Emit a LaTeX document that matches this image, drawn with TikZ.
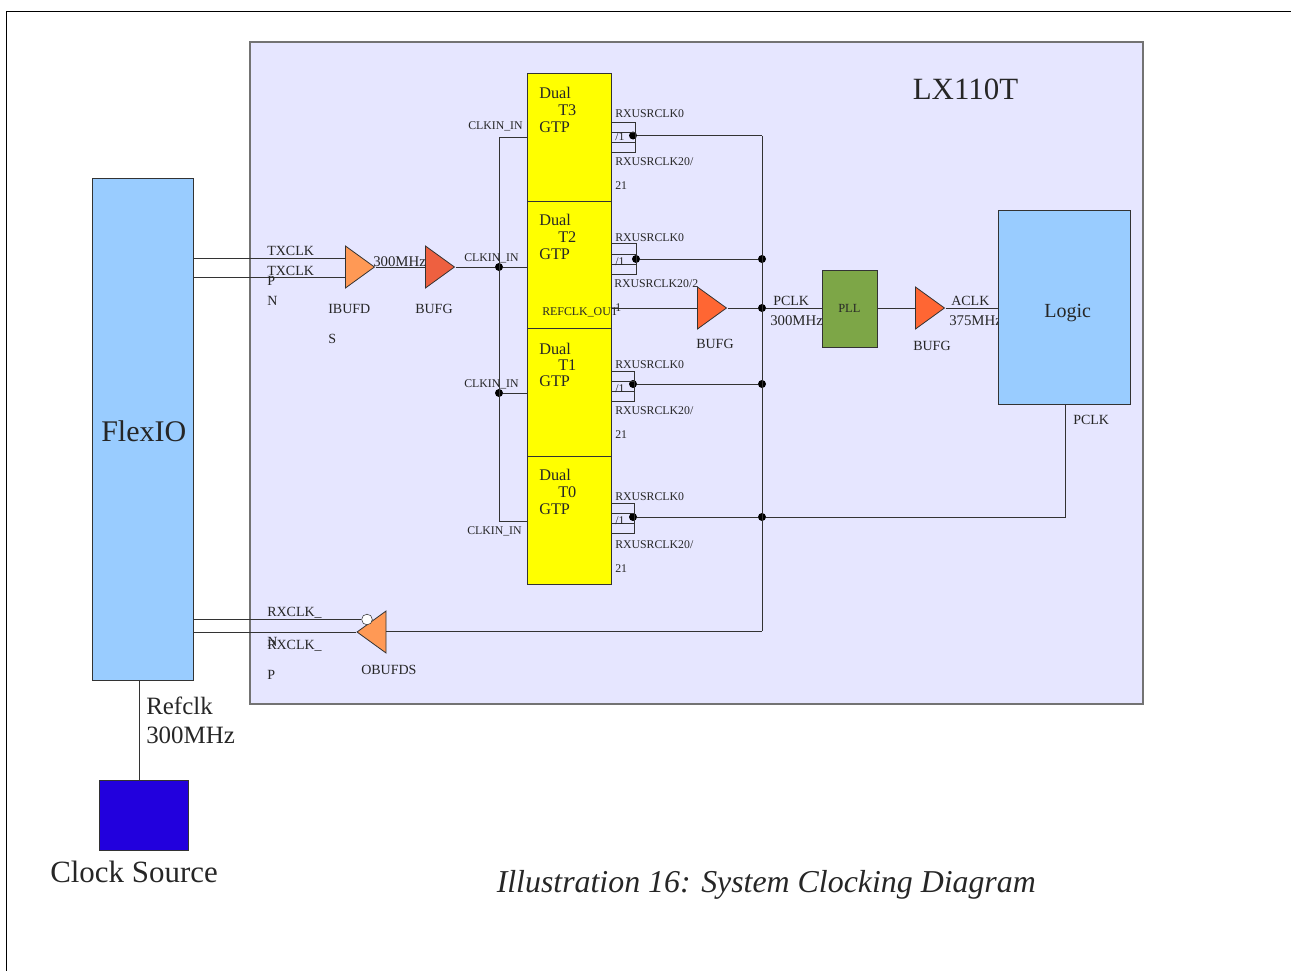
\documentclass[tikz,border=0pt]{standalone}
\usepackage{fontspec}
\setmainfont{Liberation Serif}
\usetikzlibrary{shapes.geometric}
\def\px{0.75pt}
\definecolor{panel}{HTML}{E6E6FF}
\definecolor{sky}{HTML}{99CCFF}
\definecolor{gtpyellow}{HTML}{FFFF00}
\definecolor{pllgreen}{HTML}{7DA647}
\definecolor{srcblue}{HTML}{2200DD}
\definecolor{wirec}{HTML}{333333}
\definecolor{ibufc}{HTML}{FF9955}
\definecolor{bufc}{HTML}{FF6633}
\definecolor{bufd}{HTML}{EE6040}
\begin{document}
\begin{tikzpicture}[x=0.75pt, y=-0.75pt,
  box/.style = {draw=black!80, line width=0.7pt, inner sep=0pt},
  gtp/.style = {box, fill=gtpyellow, minimum width=84*\px, minimum height=128*\px},
  wire/.style = {draw=wirec, line width=0.7pt},
  junction/.style = {circle, fill=black, inner sep=0pt, minimum size=6pt},
  amp/.style = {draw=black!80, line width=0.6pt, isosceles triangle, isosceles triangle stretches, inner sep=0pt, minimum width=42*\px, minimum height=29*\px},
  txt/.style = {anchor=base west, inner sep=0pt, text=black!85},
  tiny/.style = {txt, font=\fontsize{8.85}{9}\selectfont},
  small/.style = {txt, font=\fontsize{10.5}{10}\selectfont},
  wide/.style = {txt, font=\fontsize{11.1}{11}\selectfont},
  mid/.style = {txt, font=\fontsize{12.2}{12}\selectfont},
  big/.style = {txt, font=\fontsize{18.7}{18}\selectfont},
  huge/.style = {txt, font=\fontsize{23}{23}\selectfont}]
\useasboundingbox (0,0) rectangle (1291,971);
% page edge
\coordinate (pagetl) at (6,11);
\coordinate (pagetr) at (1291,11);
\coordinate (pagebl) at (6,971);
\draw[black, line width=0.6pt] (pagetr) -- (pagetl) -- (pagebl);
% boxes
\node[box, draw=black!55, line width=1pt, fill=panel, minimum width=893*\px, minimum height=662*\px] (fpga) at (696.5,373) {};
\node[wide] (p300) at (770,325) {300MHz};
\node[wide] (a375) at (949,325) {375MHz};
\node[box, fill=sky, minimum width=101*\px, minimum height=502*\px] (flexio) at (142.5,429) {};
\node[box, fill=srcblue, minimum width=89*\px, minimum height=70*\px] (source) at (143.5,815) {};
\node[gtp] (t3) at (569,137) {};
\node[gtp] (t2) at (569,265) {};
\node[gtp] (t1) at (569,392.5) {};
\node[gtp] (t0) at (569,520) {};
\node[box, fill=pllgreen, minimum width=55*\px, minimum height=77*\px] (pll) at (849.5,308.5) {};
\node[box, fill=sky, minimum width=132*\px, minimum height=194*\px] (logic) at (1064,307) {};
% buffers
\node[amp, fill=ibufc, anchor=apex] (ibufds) at (375.5,267) {};
\node[amp, fill=bufd, anchor=apex] (bufg1) at (455.5,267) {};
\node[amp, fill=bufc, anchor=apex] (bufg2) at (727.5,308) {};
\node[amp, fill=bufc, anchor=apex] (bufg3) at (945.5,308) {};
\node[amp, fill=ibufc, anchor=apex, shape border rotate=180] (obufds) at (356,632) {};
% junctions
\node[junction] (clk2) at (499,267) {};
\node[junction] (clk1) at (499,393) {};
\coordinate (clk3) at (499,137);
\coordinate (clk0) at (499,521);
\node[junction] (out3) at (633,135.5) {};
\node[junction] (out2) at (636,259) {};
\node[junction] (out1) at (633,384) {};
\node[junction] (out0) at (633,517) {};
\coordinate (bus3) at (762,135.5);
\node[junction] (bus2) at (762,259) {};
\node[junction] (bus1) at (762,384) {};
\node[junction] (bus0) at (762,517) {};
\node[junction] (buspll) at (762,308) {};
\coordinate (busend) at (762,631);
\coordinate (pclkend) at (1065,517);
\coordinate (refup) at (139,680);
\coordinate (refdown) at (139,780);
\node[draw=black!80, fill=white, circle, inner sep=0pt, minimum size=8pt] (inv) at (367,619.5) {};
% wires
\draw[wire] (flexio.east |- 0,258) -- (ibufds.west |- 0,258);
\draw[wire] (flexio.east |- 0,277) -- (ibufds.west |- 0,277);
\draw[wire] (ibufds.apex) -- (bufg1.west |- ibufds.apex);
\draw[wire] (bufg1.apex) -- (clk2) -- (t2.west |- clk2);
\draw[wire] (clk3) -- (clk0);
\draw[wire] (clk3) -- (t3.west |- clk3);
\draw[wire] (clk1) -- (t1.west |- clk1);
\draw[wire] (clk0) -- (t0.west |- clk0);
\draw[wire] (bus3) -- (busend);
\draw[wire] (out3) -- (bus3);
\draw[wire] (out2) -- (bus2);
\draw[wire] (out1) -- (bus1);
\draw[wire] (out0) -- (bus0);
\draw[wire] (bus0) -- (pclkend) -- (logic.south -| pclkend);
\draw[wire] (busend) -- (obufds.east |- busend);
\draw[wire] (t2.east |- bufg2.apex) -- (bufg2.west |- bufg2.apex);
\draw[wire] (bufg2.apex) -- (buspll) -- (pll.west |- buspll);
\draw[wire] (pll.east |- bufg3.apex) -- (bufg3.west |- bufg3.apex);
\draw[wire] (bufg3.apex) -- (logic.west |- bufg3.apex);
\draw[wire] (flexio.east |- inv) -- (inv);
\draw[wire] (flexio.east |- obufds.apex) -- (obufds.apex);
\draw[wire] (refup) -- (refdown);
% RXUSRCLK stubs
\draw[wire] (611,122) -- (635,122) -- (635,152) -- (611,152) (611,132) -- (635,132) (611,142) -- (635,142);
\draw[wire] (611,243) -- (636,243) -- (636,274) -- (611,274) (611,254) -- (636,254) (611,264) -- (636,264);
\draw[wire] (611,371) -- (634,371) -- (634,401) -- (611,401) (611,381) -- (634,381) (611,391) -- (634,391);
\draw[wire] (611,503) -- (634,503) -- (634,533) -- (611,533) (611,513) -- (634,513) (611,523) -- (634,523);
% labels
\node[huge, font=\fontsize{23.2}{23}\selectfont] (lbl1) at (912.5,99) {LX110T};
\node[huge, font=\fontsize{22.5}{23}\selectfont] (lbl2) at (101,441) {FlexIO};
\node[big] (lbl3) at (146,714) {Refclk};
\node[big] (lbl4) at (146,743) {300MHz};
\node[huge, font=\fontsize{23.2}{23}\selectfont] (lbl5) at (50,882) {Clock Source};
\node[huge, font=\fontsize{23.9}{23}\selectfont\itshape] (lbl6) at (496.5,892) {Illustration 16: System Clocking Diagram};
\node[txt, font=\fontsize{15}{15}\selectfont] (lbl7) at (1044,317) {Logic};
\node[tiny, font=\fontsize{9.3}{9}\selectfont] (lbl8) at (838,312) {PLL};
\node[mid] (d3a) at (539,98) {Dual};
\node[mid] (d3b) at (558,115) {T3};
\node[mid] (d3c) at (539,132) {GTP};
\node[mid] (d2a) at (539,225) {Dual};
\node[mid] (d2b) at (558,242) {T2};
\node[mid] (d2c) at (539,259) {GTP};
\node[mid] (d1a) at (539,354) {Dual};
\node[mid] (d1b) at (558,370) {T1};
\node[mid] (d1c) at (539,386) {GTP};
\node[mid] (d0a) at (539,480) {Dual};
\node[mid] (d0b) at (558,497) {T0};
\node[mid] (d0c) at (539,514) {GTP};
\node[tiny] (in3) at (468,129) {CLKIN\_IN};
\node[tiny] (in2) at (464,261) {CLKIN\_IN};
\node[tiny] (in1) at (464,387) {CLKIN\_IN};
\node[tiny] (in0) at (467,534) {CLKIN\_IN};
\node[tiny] (r3a) at (615,117) {RXUSRCLK0};
\node[tiny] (r3b) at (615,140) {/1};
\node[tiny] (r3c) at (615,165) {RXUSRCLK20/};
\node[tiny] (r3d) at (615,189) {21};
\node[tiny] (r2a) at (615,241) {RXUSRCLK0};
\node[tiny] (r2b) at (615,265) {/1};
\node[tiny] (r2c) at (614,287) {RXUSRCLK20/2};
\node[tiny] (r2d) at (615,311) {1};
\node[tiny, font=\fontsize{8.9}{8}\selectfont] (ref) at (542,315) {REFCLK\_OUT};
\node[tiny] (r1a) at (615,368) {RXUSRCLK0};
\node[tiny] (r1b) at (615,392) {/1};
\node[tiny] (r1c) at (615,414) {RXUSRCLK20/};
\node[tiny] (r1d) at (615,438) {21};
\node[tiny] (r0a) at (615,500) {RXUSRCLK0};
\node[tiny] (r0b) at (615,524) {/1};
\node[tiny] (r0c) at (615,548) {RXUSRCLK20/};
\node[tiny] (r0d) at (615,572) {21};
\node[small] (tx1) at (267,255) {TXCLK};
\node[small] (tx2) at (267,275) {TXCLK};
\node[small] (txp) at (267,285) {P};
\node[small] (txn) at (267,305) {N};
\node[wide] (f300) at (373,266) {300MHz};
\node[small] (ib1) at (328,313) {IBUFD};
\node[small] (ib2) at (328,343) {S};
\node[small] (bg1) at (415,313) {BUFG};
\node[small] (bg2) at (696,348) {BUFG};
\node[small] (bg3) at (913,350) {BUFG};
\node[small] (pck) at (773,305) {PCLK};
\node[small] (ack) at (951,305) {ACLK};
\node[small] (pck2) at (1073,424) {PCLK};
\node[small] (rx1) at (267,616) {RXCLK\_};
\node[small] (rxn) at (267,646) {N};
\node[small] (rx2) at (267,649) {RXCLK\_};
\node[small] (rxp) at (267,679) {P};
\node[small] (ob) at (361,674) {OBUFDS};
\end{tikzpicture}
\end{document}
